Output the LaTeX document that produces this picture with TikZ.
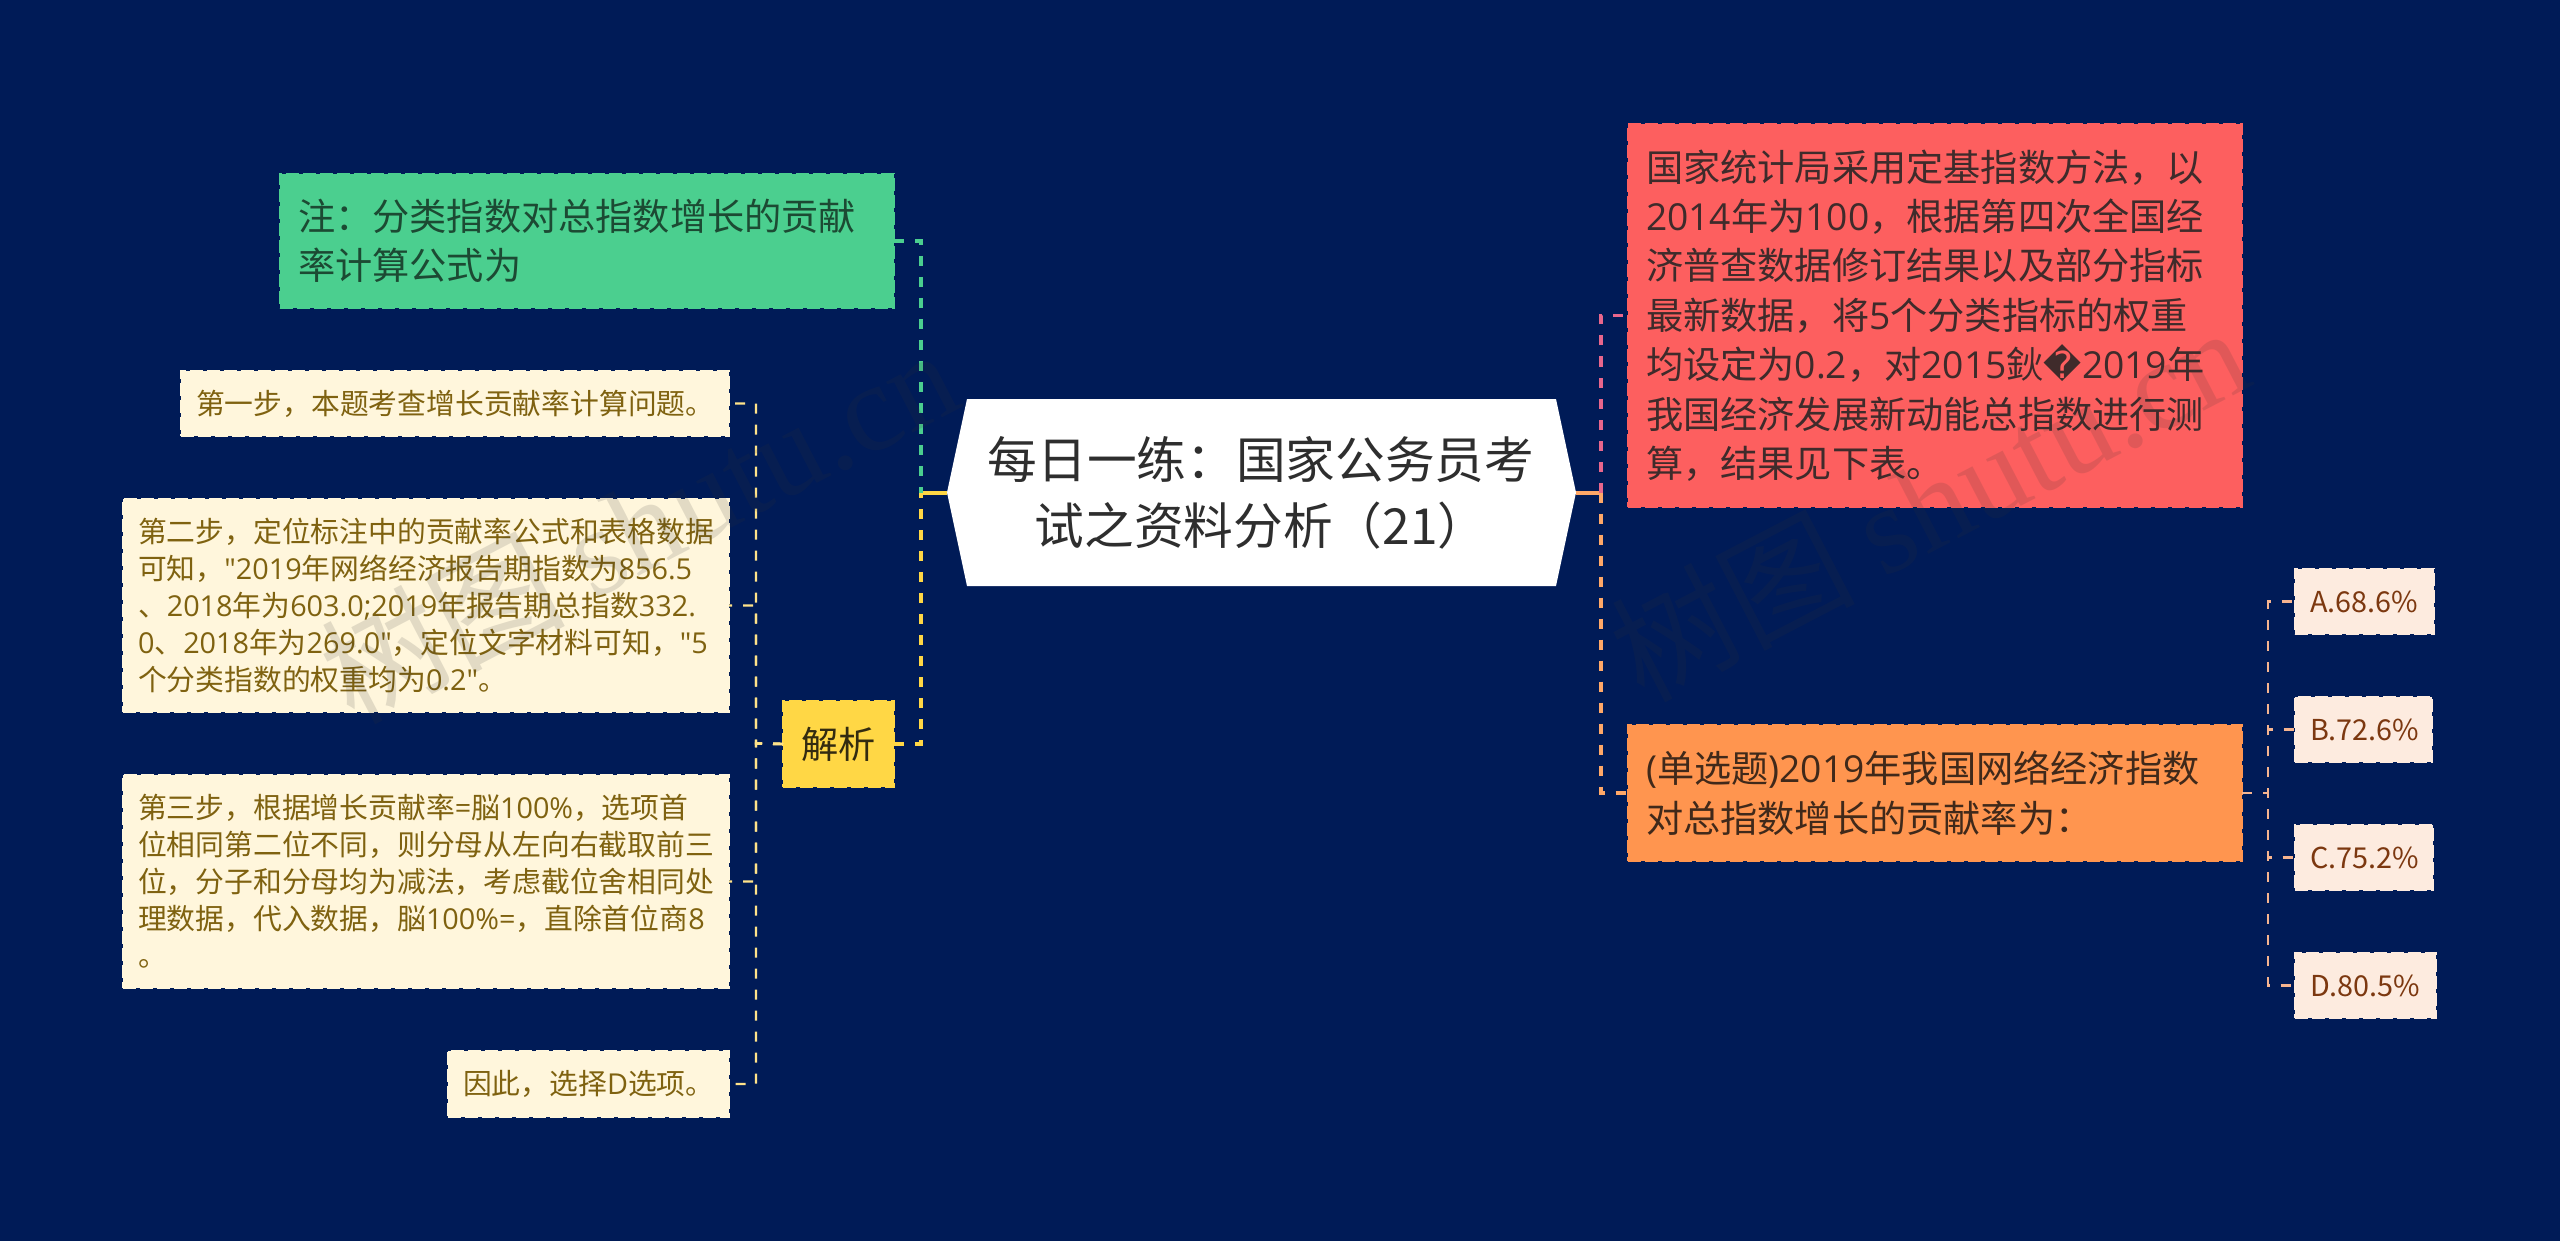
\documentclass[tikz,border=0pt]{standalone}
\usepackage{fontspec}
\setmainfont{Noto Sans CJK SC}[Ligatures=TeXOff]
\newfontfamily\repl{DejaVu Sans}
\newfontfamily\wmlatin{Liberation Serif}
\newfontfamily\wmcjk{Noto Sans CJK SC}
\newfontfamily\latfont{Open Sans}[Ligatures=TeXOff]
\newcommand\ltn[1]{{\latfont #1}}
\definecolor{bg}{HTML}{001B57}
\definecolor{cgreen}{HTML}{4BCF8F}
\definecolor{cred}{HTML}{FD5F5F}
\definecolor{corange}{HTML}{FF954F}
\definecolor{cyellow}{HTML}{FFD745}
\definecolor{cpale}{HTML}{FFF6DC}
\definecolor{cpeach}{HTML}{FDEBDF}
\definecolor{lred}{HTML}{E8668C}
\definecolor{lorange}{HTML}{FFA868}
\definecolor{lpeach}{HTML}{F6B48F}
\definecolor{lyellow}{HTML}{FFE38A}
\definecolor{tgreen}{HTML}{1C4A33}
\definecolor{tred}{HTML}{3F2B2B}
\definecolor{torange}{HTML}{40291A}
\definecolor{tpale}{HTML}{7F6210}
\definecolor{tpeach}{HTML}{7C3810}
\definecolor{tyellow}{HTML}{332B10}
\tikzset{
  boxbase/.style={rectangle,inner ysep=0pt,inner xsep=0pt,outer sep=0pt,align=left,anchor=north west,
     line width=2pt,dash pattern=on 13pt off 4pt},
  big/.style={boxbase,font=\fontsize{37.2}{49.4}\selectfont},
  mid/.style={boxbase,font=\fontsize{28.8}{37}\selectfont},
  notebox/.style={big,fill=cgreen,draw=cgreen,text=tgreen},
  redbox/.style={big,fill=cred,draw=cred,text=tred},
  orangebox/.style={big,fill=corange,draw=corange,text=torange},
  palebox/.style={mid,fill=cpale,draw=cpale,text=tpale},
  yellowbox/.style={big,fill=cyellow,draw=cyellow,text=tyellow},
  peachbox/.style={mid,fill=cpeach,draw=cpeach,text=tpeach},
  rootbox/.style={rectangle,inner sep=0pt,outer sep=0pt,align=center,text=black!82,font=\fontsize{49.7}{66}\selectfont},
  linkA/.style={line width=3.5pt,dash pattern=on 10pt off 11pt},
  linkB/.style={line width=2.4pt,dash pattern=on 10pt off 11pt},
  solidlink/.style={line width=4pt},
  mark text/.style={text=black!80,opacity=.14,rotate=27.5,anchor=base west,font=\fontsize{122}{122}\selectfont}
}
\begin{document}
\begin{tikzpicture}[x=1pt,y=-1pt]
\useasboundingbox (0,0) rectangle (2560,1241);
\fill[bg] (0,0) rectangle (2560,1241);

% root
\fill[white] (967,399) -- (1556,399) -- (1576,492.5) -- (1556,586) -- (967,586) -- (947,492.5) -- cycle;
\node[rootbox,minimum width=629pt,minimum height=187pt] (root) at (1261,492.5) {每日一练：国家公务员考\\试之资料分析（21）};

% boxes
\node[notebox,minimum width=614pt,minimum height=134pt,text width=578pt,inner xsep=18pt] (note) at (280,174) {注：分类指数对总指数增长的贡献\\率计算公式为};
\node[yellowbox,minimum width=111pt,minimum height=86pt,align=center] (jx) at (783,701) {解析};
\node[palebox,minimum width=548pt,minimum height=65pt,text width=518pt,inner xsep=15pt] (s1) at (181,371) {第一步，本题考查增长贡献率计算问题。};
\node[palebox,minimum width=606pt,minimum height=213pt,text width=576pt,inner xsep=15pt] (s2) at (123,499) {第二步，定位标注中的贡献率公式和表格数据\\可知，\ltn{"2019}年网络经济报告期指数为\ltn{856.5}\\、\ltn{2018}年为\ltn{603.0;2019}年报告期总指数\ltn{332.}\\\ltn{0}、\ltn{2018}年为\ltn{269.0"}，定位文字材料可知，\ltn{"5}\\个分类指数的权重均为\ltn{0.2"}。};
\node[palebox,minimum width=606pt,minimum height=213pt,text width=576pt,inner xsep=15pt] (s3) at (123,775) {第三步，根据增长贡献率\ltn{=}脳\ltn{100\%}，选项首\\位相同第二位不同，则分母从左向右截取前三\\位，分子和分母均为减法，考虑截位舍相同处\\理数据，代入数据，脳\ltn{100\%=}，直除首位商\ltn{8}\\。};
\node[palebox,minimum width=281pt,minimum height=66pt,text width=251pt,inner xsep=15pt] (s4) at (448,1051) {因此，选择\ltn{D}选项。};
\node[redbox,minimum width=614pt,minimum height=383pt,text width=578pt,inner xsep=18pt] (info) at (1628,124) {国家统计局采用定基指数方法，以\\\ltn{2014}年为\ltn{100}，根据第四次全国经\\济普查数据修订结果以及部分指标\\最新数据，将\ltn{5}个分类指标的权重\\均设定为\ltn{0.2}，对\ltn{2015}鈥{\repl\char"FFFD}\ltn{2019}年\\我国经济发展新动能总指数进行测\\算，结果见下表。};
\node[orangebox,minimum width=614pt,minimum height=136pt,text width=578pt,inner xsep=18pt] (q) at (1628,725) {\ltn{(}单选题\ltn{)2019}年我国网络经济指数\\对总指数增长的贡献率为：};
\node[peachbox,minimum width=139pt,minimum height=65pt,text width=109pt,inner xsep=15pt] (a) at (2295,569) {A.68.6\%};
\node[peachbox,minimum width=137pt,minimum height=65pt,text width=107pt,inner xsep=15pt] (b) at (2295,697) {B.72.6\%};
\node[peachbox,minimum width=138pt,minimum height=65pt,text width=108pt,inner xsep=15pt] (c) at (2295,825) {C.75.2\%};
\node[peachbox,minimum width=141pt,minimum height=65pt,text width=111pt,inner xsep=15pt] (d) at (2295,953) {D.80.5\%};

% junctions
\coordinate (jL) at (921,492.5);
\coordinate (jR) at (1601,492.5);
\coordinate (jS) at (756,743.5);
\coordinate (jO) at (2268,793);

% connectors
\draw[solidlink,cyellow] (root.west) -- (jL);
\draw[solidlink,lorange] (root.east) -- (jR);
\draw[linkA,cgreen] (note.east) -| (jL);
\draw[linkA,cyellow] (jx.east) -| (jL);
\draw[linkA,lred] (jR) |- (info.west);
\draw[linkA,lorange] (jR) |- (q.west);
\draw[linkB,lyellow] (jx.west) -- (jS) |- (s1.east);
\draw[linkB,lyellow] (jx.west) -- (jS) |- (s2.east);
\draw[linkB,lyellow] (jx.west) -- (jS) |- (s3.east);
\draw[linkB,lyellow] (jx.west) -- (jS) |- (s4.east);
\draw[linkB,lpeach] (q.east) -- (jO) |- (a.west);
\draw[linkB,lpeach] (q.east) -- (jO) |- (b.west);
\draw[linkB,lpeach] (q.east) -- (jO) |- (c.west);
\draw[linkB,lpeach] (q.east) -- (jO) |- (d.west);

% watermark
\node[mark text] (wm1) at (350,727) {\wmcjk 树图 \wmlatin\fontsize{125}{125}\selectfont shutu.cn};
\node[mark text] (wm2) at (1640,705) {\wmcjk 树图 \wmlatin\fontsize{125}{125}\selectfont shutu.cn};
\end{tikzpicture}
\end{document}
